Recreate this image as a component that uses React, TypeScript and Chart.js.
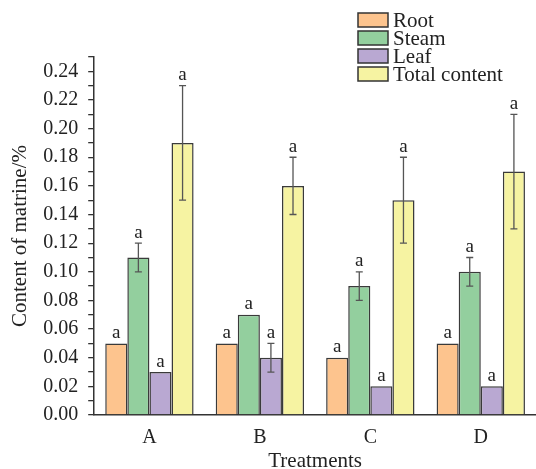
import React, { useEffect, useRef } from "react";
import { Chart, registerables } from "chart.js";

Chart.register(...registerables);

const categories = ["A", "B", "C", "D"];
const seriesNames = ["Root", "Steam", "Leaf", "Total content"];
const rootValues = [0.05, 0.05, 0.04, 0.05];
const steamValues = [0.11, 0.07, 0.09, 0.1];
const leafValues = [0.03, 0.04, 0.02, 0.02];
const totalValues = [0.19, 0.16, 0.15, 0.17];
const rootErrors = [0, 0, 0, 0];
const steamErrors = [0.01, 0, 0.01, 0.01];
const leafErrors = [0, 0.01, 0, 0];
const totalErrors = [0.04, 0.02, 0.03, 0.04];
const letters = ["a", "a", "a", "a"];
const yTickLabels = ["0.00", "0.02", "0.04", "0.06", "0.08", "0.10", "0.12", "0.14", "0.16", "0.18", "0.20", "0.22", "0.24"];

const fillColors = ["#FDC48E", "#93CF9E", "#B9A8D2", "#F6F3A2"];
const FONT = "'Liberation Serif', 'Times New Roman', serif";

const errorBarPlugin = {
  id: "errorBars",
  afterDatasetsDraw(chart: any) {
    const ctx = chart.ctx;
    const y = chart.scales.y;
    const errs = [rootErrors, steamErrors, leafErrors, totalErrors];
    ctx.save();
    chart.data.datasets.forEach((ds: any, i: number) => {
      const meta = chart.getDatasetMeta(i);
      meta.data.forEach((bar: any, j: number) => {
        const v = ds.data[j];
        const e = errs[i][j];
        const x = bar.x;
        let topVal = v;
        if (e > 0) {
          const yt = y.getPixelForValue(v + e);
          const yb = y.getPixelForValue(v - e);
          ctx.strokeStyle = "#555";
          ctx.lineWidth = 1.3;
          ctx.beginPath();
          ctx.moveTo(x, yt);
          ctx.lineTo(x, yb);
          ctx.moveTo(x - 3.5, yt);
          ctx.lineTo(x + 3.5, yt);
          ctx.moveTo(x - 3.5, yb);
          ctx.lineTo(x + 3.5, yb);
          ctx.stroke();
          topVal = v + e;
        }
        ctx.fillStyle = "#222";
        ctx.font = `19px ${FONT}`;
        ctx.textAlign = "center";
        ctx.textBaseline = "bottom";
        ctx.fillText(letters[j], x, y.getPixelForValue(topVal) - 1);
      });
    });
    ctx.restore();
  },
};

const legendPlugin = {
  id: "customLegend",
  afterDraw(chart: any) {
    const ctx = chart.ctx;
    const x0 = chart.chartArea.right - 178;
    const y0 = 13;
    ctx.save();
    chart.data.datasets.forEach((ds: any, i: number) => {
      const by = y0 + i * 18;
      ctx.fillStyle = ds.backgroundColor;
      ctx.fillRect(x0, by, 30, 14);
      ctx.strokeStyle = "#333";
      ctx.lineWidth = 1.5;
      ctx.strokeRect(x0, by, 30, 14);
      ctx.fillStyle = "#222";
      ctx.font = `21px ${FONT}`;
      ctx.textAlign = "left";
      ctx.textBaseline = "alphabetic";
      ctx.fillText(ds.label, x0 + 35, by + 14);
    });
    ctx.restore();
  },
};

export default function App() {
  const ref = useRef<HTMLCanvasElement | null>(null);
  useEffect(() => {
    document.body.style.margin = "0";
    const values = [rootValues, steamValues, leafValues, totalValues];
    const chart = new Chart(ref.current as HTMLCanvasElement, {
      type: "bar",
      data: {
        labels: categories,
        datasets: seriesNames.map((name, i) => ({
          label: name,
          data: values[i],
          backgroundColor: fillColors[i],
          borderColor: "#3a3a3a",
          borderWidth: 1.5,
          borderSkipped: "bottom",
          categoryPercentage: 0.8,
          barPercentage: 1.0,
        })),
      },
      options: {
        animation: false,
        responsive: false,
        devicePixelRatio: 1,
        layout: { padding: { top: 57, right: 0, left: 8, bottom: -3 } },
        plugins: { legend: { display: false }, tooltip: { enabled: false } },
        scales: {
          x: {
            grid: { display: false, drawTicks: false },
            border: { display: true, color: "#333", width: 1.5 },
            ticks: { color: "#222", font: { family: FONT, size: 20, lineHeight: 1 }, padding: 13 },
            title: {
              display: true,
              text: "Treatments",
              color: "#222",
              font: { family: FONT, size: 21, lineHeight: 1 },
              padding: { top: -10, bottom: 0 },
            },
          },
          y: {
            min: 0,
            max: 0.25,
            grid: { display: true, drawOnChartArea: false, drawTicks: true, tickLength: 6, color: "#333", lineWidth: 1.3 },
            border: { display: true, color: "#333", width: 1.5 },
            ticks: {
              stepSize: 0.01,
              autoSkip: false,
              color: "#222",
              padding: 10,
              font: { family: FONT, size: 20 },
              callback: (v: any) => {
                const idx = Math.round(Number(v) * 100);
                if (idx % 2 !== 0) return "";
                return yTickLabels[idx / 2] ?? "";
              },
            },
            title: {
              display: true,
              text: "Content of matrine/%",
              color: "#222",
              font: { family: FONT, size: 21 },
              padding: { top: 0, bottom: 0 },
            },
          },
        },
      },
      plugins: [errorBarPlugin, legendPlugin],
    });
    return () => chart.destroy();
  }, []);
  return <canvas ref={ref} width={536} height={469} style={{ display: "block" }} />;
}
